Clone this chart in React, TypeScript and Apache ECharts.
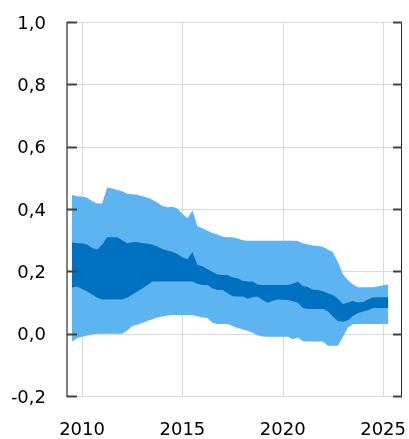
import React, { useEffect, useRef } from "react";
import * as echarts from "echarts";

// Quarterly observations, first one at 2009.5, one per quarter
const startYear = 2009.5;
const outerUpper = [
  0.445, 0.441, 0.44, 0.436, 0.426, 0.418, 0.418, 0.469, 0.466, 0.461,
  0.457, 0.449, 0.447, 0.446, 0.441, 0.437, 0.43, 0.421, 0.41, 0.406,
  0.407, 0.402, 0.385, 0.37, 0.395, 0.345, 0.338, 0.33, 0.323, 0.318,
  0.311, 0.309, 0.309, 0.305, 0.3, 0.298, 0.298, 0.298, 0.298, 0.298,
  0.298, 0.298, 0.298, 0.298, 0.298, 0.297, 0.29, 0.286, 0.283, 0.281,
  0.279, 0.27, 0.261, 0.23, 0.19, 0.172, 0.158, 0.149, 0.149, 0.149,
  0.149, 0.152, 0.155, 0.158,
];
const innerUpper = [
  0.293, 0.29, 0.29, 0.286, 0.275, 0.27, 0.285, 0.309, 0.309, 0.309,
  0.3, 0.29, 0.293, 0.294, 0.29, 0.289, 0.285, 0.28, 0.272, 0.267,
  0.263, 0.256, 0.245, 0.239, 0.262, 0.22, 0.216, 0.207, 0.198, 0.19,
  0.188, 0.188, 0.18, 0.178, 0.17, 0.167, 0.167, 0.158, 0.156, 0.156,
  0.156, 0.156, 0.156, 0.156, 0.16, 0.167, 0.153, 0.15, 0.141, 0.14,
  0.136, 0.13, 0.124, 0.112, 0.094, 0.1, 0.105, 0.1, 0.102, 0.11,
  0.117, 0.117, 0.117, 0.117,
];
const innerLower = [
  0.148, 0.151, 0.143, 0.135, 0.126, 0.115, 0.11, 0.11, 0.11, 0.11,
  0.11, 0.115, 0.125, 0.135, 0.145, 0.155, 0.167, 0.167, 0.167, 0.167,
  0.167, 0.167, 0.167, 0.167, 0.167, 0.16, 0.156, 0.156, 0.145, 0.14,
  0.14, 0.13, 0.12, 0.119, 0.119, 0.112, 0.117, 0.119, 0.108, 0.099,
  0.106, 0.11, 0.109, 0.108, 0.104, 0.099, 0.082, 0.079, 0.079, 0.079,
  0.079, 0.072, 0.055, 0.041, 0.038, 0.043, 0.057, 0.066, 0.071, 0.075,
  0.082, 0.082, 0.082, 0.082,
];
const outerLower = [
  -0.025, -0.015, -0.01, -0.006, -0.003, 0, 0, 0, 0, 0,
  0, 0.01, 0.025, 0.029, 0.034, 0.041, 0.046, 0.052, 0.055, 0.058,
  0.06, 0.06, 0.06, 0.06, 0.06, 0.056, 0.052, 0.05, 0.035, 0.031,
  0.031, 0.031, 0.025, 0.018, 0.013, 0.009, 0.003, -0.005, -0.009, -0.01,
  -0.01, -0.01, -0.01, -0.01, -0.018, -0.012, -0.024, -0.025, -0.025, -0.025,
  -0.025, -0.039, -0.039, -0.039, -0.01, 0.02, 0.03, 0.031, 0.031, 0.031,
  0.031, 0.031, 0.031, 0.031,
];
// Axis range (year fractions), labelled years and y ticks
const axisStart = 2009.25;
const axisEnd = 2025.95;
const yMin = -0.2;
const yMax = 1.0;
const xTicks = [2010, 2015, 2020, 2025];
const yTicks = [-0.2, 0, 0.2, 0.4, 0.6, 0.8, 1.0];

const LIGHT = "#5DB4F1";
const DARK = "#0070C0";
const GRID = "#d9d9d9";
const FONT = "'DejaVu Sans', sans-serif";

export default function App() {
  const ref = useRef<HTMLDivElement>(null);
  useEffect(() => {
    if (!ref.current) return;
    const chart = echarts.init(ref.current, null, { renderer: "svg" });
    const years = outerUpper.map((_, i) => startYear + i * 0.25);

    // polygon band between two boundary arrays, drawn through the axes' scales
    const bandSeries = (
      name: string,
      upper: number[],
      lower: number[],
      color: string,
      z2: number
    ) => ({
      type: "custom",
      name,
      silent: true,
      encode: { x: 0, y: 1 },
      data: upper.map((v, i) => [years[i], v, lower[i]]),
      renderItem: (params: any, api: any) => {
        if (params.dataIndex !== 0) return null;
        const top = upper.map((v, i) => api.coord([years[i], v]));
        const bottom = lower.map((v, i) => api.coord([years[i], v])).reverse();
        return {
          type: "polygon",
          z2,
          shape: { points: top.concat(bottom) },
          style: { fill: color },
        };
      },
    });

    // thin filled rectangle used for grid lines, axis lines and ticks
    const bar = (
      x: number,
      y: number,
      width: number,
      height: number,
      fill: string,
      z2: number
    ) => ({
      type: "rect",
      z2,
      shape: { x, y, width, height },
      style: { fill },
    });

    chart.setOption({
      animation: false,
      grid: { left: 67, right: 6, top: 22, bottom: 43 },
      xAxis: {
        type: "value",
        min: axisStart,
        max: axisEnd,
        axisLine: { show: false },
        axisTick: { show: false },
        splitLine: { show: false },
        axisLabel: {
          customValues: xTicks,
          formatter: (v: number) => String(Math.round(v)),
          color: "#000",
          fontSize: 18,
          fontFamily: FONT,
          margin: 23,
        },
      },
      yAxis: {
        type: "value",
        min: yMin,
        max: yMax,
        interval: 0.2,
        position: "left",
        axisLine: { show: false },
        axisTick: { show: false },
        splitLine: { show: false },
        axisLabel: {
          color: "#000",
          fontSize: 18,
          fontFamily: FONT,
          margin: 21,
          formatter: (v: number) => v.toFixed(1).replace(".", ","),
        },
      },
      series: [
        // vertical grid lines at the labelled years
        {
          type: "custom",
          name: "vgrid",
          silent: true,
          encode: { x: 0, y: 1 },
          data: xTicks.map((x) => [x, yMin]),
          renderItem: (_: any, api: any) => {
            const x = api.value(0);
            const pb = api.coord([x, yMin]);
            const pt = api.coord([x, yMax]);
            return bar(Math.round(pb[0]), pt[1], 1, pb[1] - pt[1], GRID, 9);
          },
        },
        bandSeries("outer", outerUpper, outerLower, LIGHT, 10),
        bandSeries("inner", innerUpper, innerLower, DARK, 20),
        // horizontal grid lines, axis lines and inside ticks at each y tick
        {
          type: "custom",
          name: "frame",
          silent: true,
          encode: { x: 0, y: 1 },
          data: yTicks.map((v) => [axisStart, v]),
          renderItem: (params: any, api: any) => {
            const v = api.value(1);
            const pl = api.coord([axisStart, v]);
            const pr = api.coord([axisEnd, v]);
            const y = Math.round(pl[1]);
            const lx = Math.round(pl[0]);
            const rx = Math.round(pr[0]);
            const children: any[] = [
              bar(lx, y, rx - lx, 1, GRID, 9),
              bar(lx, y - 0.5, 10, 2, "#404040", 32),
              bar(rx - 9, y - 0.5, 9, 2, "#404040", 32),
            ];
            if (params.dataIndex === 0) {
              const top = Math.round(api.coord([axisStart, yMax])[1]);
              const bottom = Math.round(api.coord([axisStart, yMin])[1]);
              children.push(bar(lx - 1, top, 2, bottom - top + 1, "#7f7f7f", 30));
              children.push(bar(rx - 1, top, 1, bottom - top + 1, "#262626", 30));
            }
            return { type: "group", children };
          },
        },
      ],
    });
    return () => chart.dispose();
  }, []);
  return (
    <div
      ref={ref}
      style={{ position: "fixed", left: 0, top: 0, width: 409, height: 439 }}
    />
  );
}
